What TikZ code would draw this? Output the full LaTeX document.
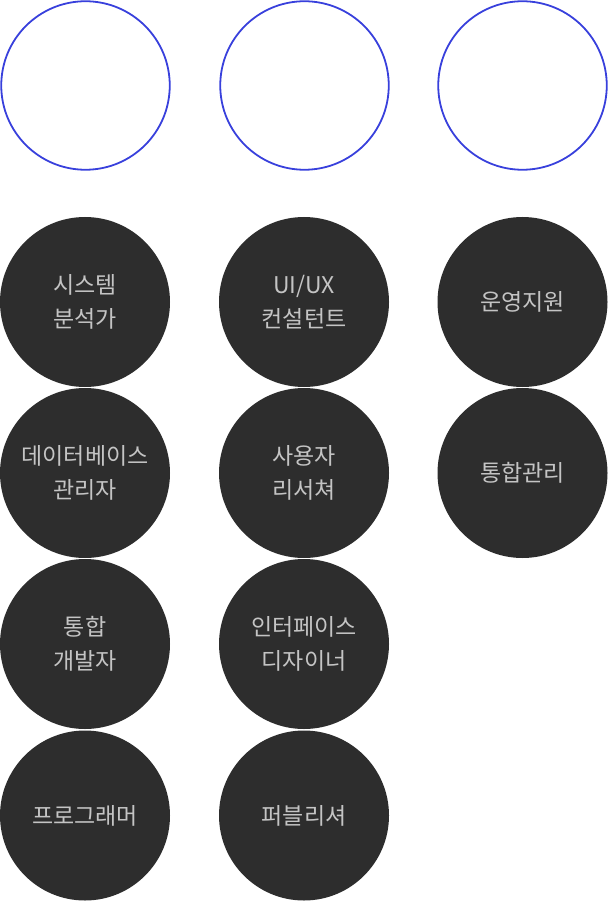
\documentclass[tikz,border=0pt]{standalone}
\usepackage{fontspec}
\newfontfamily\krfont{Noto Sans CJK KR}
\definecolor{ringblue}{HTML}{3840DC}
\definecolor{darkfill}{HTML}{2D2D2D}
\definecolor{textgray}{HTML}{C4C4C4}
\begin{document}
\begin{tikzpicture}[x=1pt,y=-1pt,
  ring/.style={circle,draw=ringblue,line width=1.8pt,minimum size=168.5pt,inner sep=0pt},
  role/.style={circle,fill=darkfill,minimum size=170pt,inner sep=0pt,align=center,
    text=textgray,font=\krfont\fontsize{23pt}{34pt}\selectfont}]
\useasboundingbox (0,0) rectangle (608,901);
\node[ring] (r1) at (85.5,85.5) {};
\node[ring] (r2) at (304.5,85.5) {};
\node[ring] (r3) at (522.5,85.5) {};
% column 1
\node[role] (a1) at (85,302) {시스템\\분석가};
\node[role] (a2) at (85,473) {데이터베이스\\관리자};
\node[role] (a3) at (85,644) {통합\\개발자};
\node[role] (a4) at (85,815.5) {프로그래머};
% column 2
\node[role] (b1) at (304,302) {UI/UX\\컨설턴트};
\node[role] (b2) at (304,473) {사용자\\리서쳐};
\node[role] (b3) at (304,644) {인터페이스\\디자이너};
\node[role] (b4) at (304,815.5) {퍼블리셔};
% column 3
\node[role] (c1) at (522.5,302) {운영지원};
\node[role] (c2) at (522.5,473) {통합관리};
\end{tikzpicture}
\end{document}
